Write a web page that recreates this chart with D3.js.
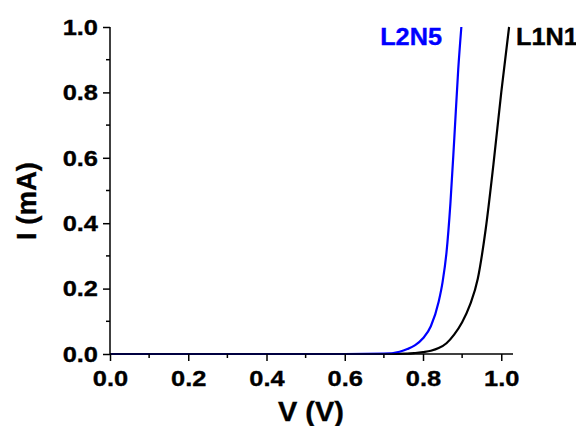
<!DOCTYPE html>
<html>
<head>
<meta charset="utf-8">
<script src="https://cdn.jsdelivr.net/npm/d3@7"></script>
<style>
  html, body { margin: 0; padding: 0; background: #fff; }
  svg { display: block; }
  text { font-family: "Liberation Sans", Arial, sans-serif; font-weight: bold; }
</style>
</head>
<body>
<svg id="chart" width="576" height="426"></svg>
<script>
// ---- data ----
const l2n5V = [0.00, 0.60, 0.70, 0.74, 0.76, 0.78, 0.80, 0.82, 0.84, 0.85, 0.86, 0.87, 0.88, 0.89, 0.898];
const l2n5I = [0.00, 0.000, 0.001, 0.007, 0.015, 0.027, 0.048, 0.085, 0.16, 0.22, 0.31, 0.46, 0.66, 0.87, 1.00];
const l1n1V = [0.00, 0.70, 0.76, 0.78, 0.80, 0.82, 0.84, 0.86, 0.88, 0.90, 0.92, 0.94, 0.96, 0.98, 1.00, 1.02];
const l1n1I = [0.00, 0.000, 0.001, 0.003, 0.006, 0.010, 0.018, 0.033, 0.060, 0.097, 0.15, 0.23, 0.38, 0.58, 0.80, 1.00];
const seriesNames = ["L2N5", "L1N1"];
const seriesColors = ["#0000ff", "#000000"];
const xTicks = [0.0, 0.2, 0.4, 0.6, 0.8, 1.0];
const yTicks = [0.0, 0.2, 0.4, 0.6, 0.8, 1.0];
const xMinor = [0.1, 0.3, 0.5, 0.7, 0.9];
const yMinor = [0.1, 0.3, 0.5, 0.7, 0.9];
const xLabel = "V (V)";
const yLabel = "I (mA)";

// ---- layout ----
const svg = d3.select("#chart");
const x = d3.scaleLinear().domain([0, 1.03]).range([110, 513]);
const y = d3.scaleLinear().domain([0, 1.0]).range([354, 27]);

function stretch(sel, k) {
  sel.each(function () {
    const len = this.getComputedTextLength();
    d3.select(this).attr("textLength", len * k).attr("lengthAdjust", "spacingAndGlyphs");
  });
  sel.attr("stroke", function () { return d3.select(this).attr("fill") || "#000"; })
     .attr("stroke-width", 0.35);
}

const series = [
  { name: seriesNames[0], color: seriesColors[0], pts: l2n5V.map((v, i) => [v, l2n5I[i]]) },
  { name: seriesNames[1], color: seriesColors[1], pts: l1n1V.map((v, i) => [v, l1n1I[i]]) }
];

svg.append("defs").append("clipPath").attr("id", "clip")
  .append("rect").attr("x", 110).attr("y", 26).attr("width", 410).attr("height", 330);

const line = d3.line().x(d => x(d[0])).y(d => y(d[1])).curve(d3.curveMonotoneX);

const g = svg.append("g").attr("clip-path", "url(#clip)");
[series[1], series[0]].forEach(s => {
  g.append("path").datum(s.pts)
    .attr("d", line)
    .attr("fill", "none")
    .attr("stroke", s.color)
    .attr("stroke-width", 2.2);
});

// x axis
const xAxis = d3.axisBottom(x).tickValues(xTicks).tickFormat(d3.format(".1f")).tickSize(7).tickPadding(9);
const gx = svg.append("g").attr("transform", "translate(0,354)").call(xAxis);
gx.select(".domain").attr("d", `M${x(0)},0H${x(1.03)}`).attr("stroke-width", 1.5);
gx.selectAll(".tick line").attr("stroke-width", 1.5);
gx.selectAll(".tick text").attr("font-size", 22.5).attr("font-family", null).attr("fill", "#000");
stretch(gx.selectAll(".tick text"), 1.13);
svg.append("g").attr("transform", "translate(0,354)")
  .selectAll("line").data(xMinor).join("line")
  .attr("x1", d => x(d)).attr("x2", d => x(d)).attr("y1", 0).attr("y2", 4)
  .attr("stroke", "#000").attr("stroke-width", 1.5);

// y axis
const yAxis = d3.axisLeft(y).tickValues(yTicks).tickFormat(d3.format(".1f")).tickSize(7).tickPadding(5);
const gy = svg.append("g").attr("transform", `translate(${x(0)},0)`).call(yAxis);
gy.select(".domain").attr("d", `M0,${y(0)}V${y(1)}`).attr("stroke-width", 1.5);
gy.selectAll(".tick line").attr("stroke-width", 1.5);
gy.selectAll(".tick text").attr("font-size", 22.5).attr("font-family", null).attr("fill", "#000");
stretch(gy.selectAll(".tick text"), 1.13);
svg.append("g").attr("transform", `translate(${x(0)},0)`)
  .selectAll("line").data(yMinor).join("line")
  .attr("x1", -4).attr("x2", 0).attr("y1", d => y(d)).attr("y2", d => y(d))
  .attr("stroke", "#000").attr("stroke-width", 1.5);

// axis labels
stretch(svg.append("text").attr("x", 311).attr("y", 421).attr("text-anchor", "middle")
  .attr("font-size", 27).attr("fill", "#000").text(xLabel), 1.07);
stretch(svg.append("text").attr("transform", "translate(36,201) rotate(-90)").attr("text-anchor", "middle")
  .attr("font-size", 27).attr("fill", "#000").text(yLabel), 1.02);

// series labels
stretch(svg.append("text").attr("x", 442).attr("y", 45).attr("text-anchor", "end")
  .attr("font-size", 23).attr("fill", seriesColors[0]).text(seriesNames[0]), 1.1);
stretch(svg.append("text").attr("x", 516).attr("y", 45).attr("text-anchor", "start")
  .attr("font-size", 23).attr("fill", seriesColors[1]).text(seriesNames[1]), 1.1);
</script>
</body>
</html>
